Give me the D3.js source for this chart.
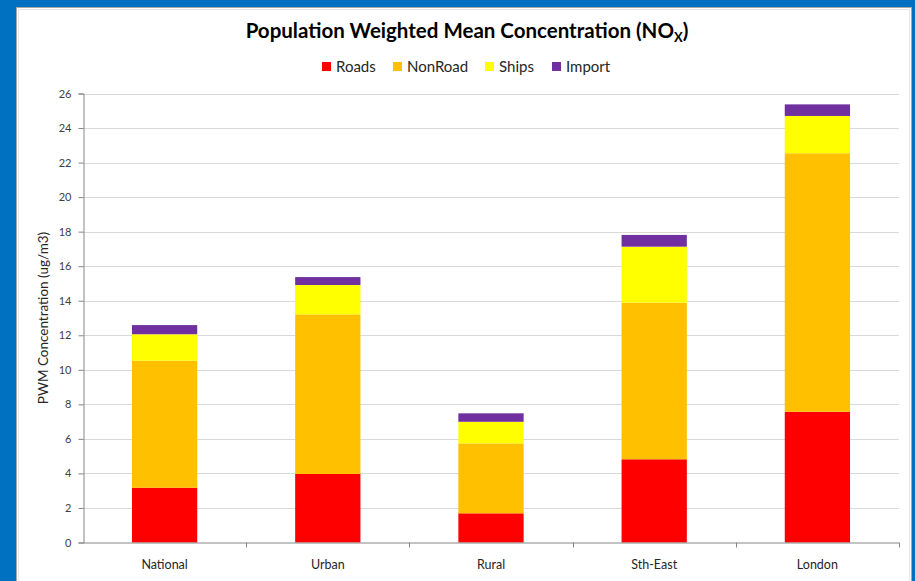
<!DOCTYPE html>
<html>
<head>
<meta charset="utf-8">
<script src="https://cdn.jsdelivr.net/npm/d3@7"></script>
<style>
  html, body { margin: 0; padding: 0; background: #0070c0; }
  svg { display: block; }
</style>
</head>
<body>
<svg id="chart" width="915" height="581"></svg>
<script>
// Population weighted mean NOx concentration by area, split by source
const categories = ["National", "Urban", "Rural", "Sth-East", "London"];
const seriesNames = ["Roads", "NonRoad", "Ships", "Import"];
const seriesColors = ["#ff0000", "#ffc000", "#ffff00", "#7030a0"];
const roads   = [3.17, 3.97, 1.69, 4.82, 7.57];
const nonRoad = [7.36, 9.24, 4.05, 9.07, 14.97];
const ships   = [1.53, 1.70, 1.25, 3.24, 2.16];
const imports = [0.53, 0.46, 0.49, 0.68, 0.67];
const yTicks  = [0, 2, 4, 6, 8, 10, 12, 14, 16, 18, 20, 22, 24, 26];

const rows = categories.map((c, i) => ({
  category: c, Roads: roads[i], NonRoad: nonRoad[i], Ships: ships[i], Import: imports[i]
}));

const svg = d3.select("#chart");
const font = "Lato, 'Open Sans', sans-serif";

// white chart panel on the blue page
svg.append("rect")
  .attr("x", 16.5).attr("y", 7.5).attr("width", 895).attr("height", 590)
  .attr("fill", "#ffffff").attr("stroke", "#a6a6a6").attr("stroke-width", 1);
svg.append("rect")
  .attr("x", 18.5).attr("y", 9.5).attr("width", 891).attr("height", 590)
  .attr("fill", "none").attr("stroke", "#e6e6e6").attr("stroke-width", 1);

const plot = { left: 83, right: 899, top: 93.5, bottom: 542.5 };

const x = d3.scaleBand()
  .domain(categories)
  .range([plot.left, plot.right])
  .paddingInner(0.6)
  .paddingOuter(0.3);

const y = d3.scaleLinear()
  .domain([0, 26])
  .range([plot.bottom, plot.top]);

// horizontal gridlines
svg.append("g")
  .selectAll("line")
  .data(yTicks.filter(t => t > 0))
  .join("line")
  .attr("x1", plot.left).attr("x2", plot.right)
  .attr("y1", d => Math.round(y(d)) + 0.5).attr("y2", d => Math.round(y(d)) + 0.5)
  .attr("stroke", "#d9d9d9").attr("stroke-width", 1);

// stacked bars
const stack = d3.stack().keys(seriesNames);
const layers = stack(rows);
const color = d3.scaleOrdinal().domain(seriesNames).range(seriesColors);

svg.append("g")
  .selectAll("g")
  .data(layers)
  .join("g")
  .attr("fill", d => color(d.key))
  .selectAll("rect")
  .data(d => d)
  .join("rect")
  .attr("x", d => x(d.data.category))
  .attr("width", x.bandwidth())
  .attr("y", d => y(d[1]))
  .attr("height", d => y(d[0]) - y(d[1]));

// y axis
const yAxis = svg.append("g")
  .attr("transform", `translate(${plot.left + 0.5},0)`)
  .call(d3.axisLeft(y).tickValues(yTicks).tickSize(5).tickPadding(7).tickFormat(d3.format("d")));
yAxis.select(".domain").attr("stroke", "#868686");
yAxis.selectAll(".tick line").attr("stroke", "#868686");
yAxis.selectAll(".tick text")
  .attr("font-family", font).attr("font-size", 11).attr("fill", "#404040");

// x axis: tick marks sit on the boundaries between categories
const xAxisG = svg.append("g");
xAxisG.append("line")
  .attr("x1", plot.left).attr("x2", plot.right)
  .attr("y1", plot.bottom + 0.5).attr("y2", plot.bottom + 0.5)
  .attr("stroke", "#868686");
xAxisG.selectAll("line.tick")
  .data(categories)
  .join("line")
  .attr("class", "tick")
  .attr("x1", d => Math.round(x(d) + x.bandwidth() / 2 + x.step() / 2) + 0.5)
  .attr("x2", d => Math.round(x(d) + x.bandwidth() / 2 + x.step() / 2) + 0.5)
  .attr("y1", plot.bottom).attr("y2", plot.bottom + 5)
  .attr("stroke", "#868686");
xAxisG.selectAll("text")
  .data(categories)
  .join("text")
  .attr("x", d => x(d) + x.bandwidth() / 2)
  .attr("y", 569)
  .attr("text-anchor", "middle")
  .attr("font-family", font).attr("font-size", 12.5).attr("fill", "#262626")
  .text(d => d);

// y axis title
svg.append("text")
  .attr("transform", "translate(48,318) rotate(-90)")
  .attr("text-anchor", "middle")
  .attr("font-family", font).attr("font-size", 13.5).attr("fill", "#262626")
  .text("PWM Concentration (ug/m3)");

// chart title
const title = svg.append("text")
  .attr("x", 467).attr("y", 38)
  .attr("text-anchor", "middle")
  .attr("font-family", font).attr("font-size", 20.5).attr("font-weight", "bold").attr("fill", "#000");
title.append("tspan").text("Population Weighted Mean Concentration (NO");
title.append("tspan").attr("font-size", 13).attr("dy", 4).text("X");
title.append("tspan").attr("dy", -4).text(")");

// legend
const legendX = [322, 393, 485, 552];
const legend = svg.append("g")
  .selectAll("g")
  .data(seriesNames)
  .join("g")
  .attr("transform", (d, i) => `translate(${legendX[i]},62)`);
legend.append("rect")
  .attr("width", 9).attr("height", 9)
  .attr("fill", d => color(d));
legend.append("text")
  .attr("x", 14).attr("y", 9.5)
  .attr("font-family", font).attr("font-size", 15).attr("fill", "#262626")
  .text(d => d);
</script>
</body>
</html>
